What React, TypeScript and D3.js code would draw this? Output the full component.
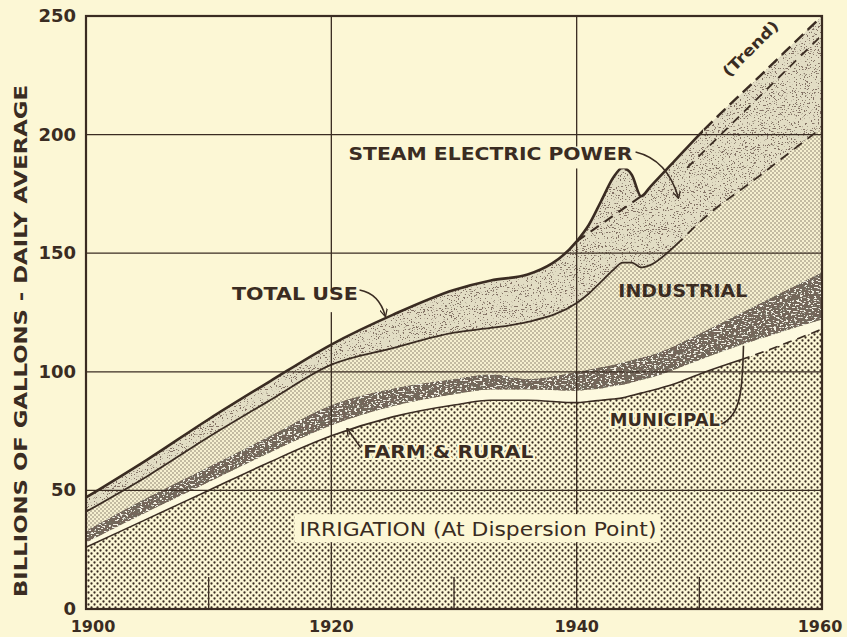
import * as d3 from "d3";
import React from "react";

// Water use, billions of gallons daily average
const years = [1900, 1905, 1910, 1915, 1920, 1925, 1930, 1933, 1936, 1940, 1941, 1942, 1943, 1943.75, 1944.5, 1945.25, 1946, 1948, 1950, 1955, 1960];
const irrigation = [26, 38, 50, 62, 73, 81, 86, 88, 88, 87, 87.5, 88, 88.5, 89, 90, 91, 92, 95, 99, 108, 118];
const farmRural = [2, 3, 3.5, 4, 4.5, 4.5, 4.5, 4.5, 4.5, 5, 5, 5, 5.5, 5.5, 5.5, 5.5, 5.5, 6, 6, 6, 4];
const municipal = [5, 6, 6.5, 7, 8.5, 7.5, 6.5, 6.5, 4.5, 8, 8.5, 9, 9, 9.5, 9.5, 9.5, 9.5, 10, 11, 15, 20];
const industrial = [8, 9, 12.5, 15, 17, 17, 19.5, 19.5, 24, 29, 32, 36, 40, 42, 41, 38, 38, 42, 47, 54, 61];
const steamPower = [6, 7, 7.5, 8, 8.5, 14, 18, 20, 20, 26, 29, 34, 39, 40, 37, 30, 33, 36, 37, 42, 47];

// dashed trend of total use under the war-time bump
const trendYears = [1940, 1945.25];
const trendValues = [155, 174];
// second dashed trend inside the steam electric band
const upperTrendYears = [1949, 1960];
const upperTrendValues = [186, 242];

const yTicks = [0, 50, 100, 150, 200, 250];
const xTicks = [1900, 1920, 1940, 1960];
const minorTicks = [1910, 1930, 1950];

const width = 847;
const height = 637;
const margin = { top: 16, right: 25, bottom: 28, left: 86 };

const ink = "#3a2c22";
const paper = "#fcf7d5";
const font = "'DejaVu Sans', sans-serif";

type Row = { year: number; [k: string]: number };

const App: React.FC = () => {
  const x = d3.scaleLinear().domain([1900, 1960]).range([margin.left, width - margin.right]);
  const y = d3.scaleLinear().domain([0, 250]).range([height - margin.bottom, margin.top]);

  const keys = ["irrigation", "farm", "municipal", "industrial", "steam"];
  const rows: Row[] = years.map((yr, i) => ({
    year: yr,
    irrigation: irrigation[i],
    farm: farmRural[i],
    municipal: municipal[i],
    industrial: industrial[i],
    steam: steamPower[i],
  }));
  const series = d3.stack<Row>().keys(keys)(rows);

  const area = d3
    .area<d3.SeriesPoint<Row>>()
    .x((d) => x(d.data.year))
    .y0((d) => y(d[0]))
    .y1((d) => y(d[1]))
    .curve(d3.curveMonotoneX);

  const topLine = d3
    .line<d3.SeriesPoint<Row>>()
    .x((d) => x(d.data.year))
    .y((d) => y(d[1]))
    .curve(d3.curveMonotoneX);

  const straight = (ys: number[], vs: number[]) =>
    d3
      .line<number>()
      .x((d) => x(d))
      .y((_, i) => y(vs[i]))(ys) ?? "";

  const fills: Record<string, { fill: string; filter?: string }> = {
    irrigation: { fill: "url(#dotsCoarse)" },
    farm: { fill: "#fdf9df" },
    municipal: { fill: "#716b5b", filter: "url(#mottle)" },
    industrial: { fill: "url(#dotsFine)" },
    steam: { fill: "#e2ddc4", filter: "url(#stipple)" },
  };

  const x0 = x(1900);
  const x1 = x(1960);
  const yb = y(0);
  const yt = y(250);

  // helper for a leader line in data coordinates
  const pt = (yr: number, v: number) => `${x(yr)},${y(v)}`;

  const labelStyle = {
    fontFamily: font,
    fontWeight: 700,
    fill: ink,
  } as React.CSSProperties;

  return (
    <svg
      width={width}
      height={height}
      style={{ position: "absolute", left: 0, top: 0, display: "block" }}
    >
      <defs>
        <pattern id="dotsCoarse" width={6} height={6} patternUnits="userSpaceOnUse">
          <rect width={6} height={6} fill={paper} />
          <circle cx={1.5} cy={1.5} r={1.15} fill={ink} />
          <circle cx={4.5} cy={4.5} r={1.15} fill={ink} />
        </pattern>
        <pattern id="dotsFine" width={4} height={4} patternUnits="userSpaceOnUse">
          <rect width={4} height={4} fill="#f6f0d0" />
          <circle cx={1} cy={1} r={0.68} fill={ink} opacity={0.75} />
          <circle cx={3} cy={3} r={0.68} fill={ink} opacity={0.75} />
        </pattern>
        <filter id="stipple" filterUnits="userSpaceOnUse" x={0} y={0} width={width} height={height}>
          <feTurbulence type="fractalNoise" baseFrequency="0.55 0.95" numOctaves={2} seed={7} result="n" />
          <feColorMatrix
            in="n"
            type="matrix"
            values="0 0 0 0 0.23  0 0 0 0 0.17  0 0 0 0 0.13  18 0 0 0 -10.9"
            result="s"
          />
          <feComposite in="s" in2="SourceGraphic" operator="in" result="c" />
          <feMerge>
            <feMergeNode in="SourceGraphic" />
            <feMergeNode in="c" />
          </feMerge>
        </filter>
        <filter id="mottle" filterUnits="userSpaceOnUse" x={0} y={0} width={width} height={height}>
          <feTurbulence type="fractalNoise" baseFrequency="0.35 0.7" numOctaves={2} seed={3} result="n" />
          <feColorMatrix
            in="n"
            type="matrix"
            values="0 0 0 0 0.18  0 0 0 0 0.13  0 0 0 0 0.1  14 0 0 0 -7.0"
            result="dark"
          />
          <feColorMatrix
            in="n"
            type="matrix"
            values="0 0 0 0 0.9  0 0 0 0 0.88  0 0 0 0 0.78  -14 0 0 0 6.0"
            result="light"
          />
          <feMerge result="m">
            <feMergeNode in="dark" />
            <feMergeNode in="light" />
          </feMerge>
          <feComposite in="m" in2="SourceGraphic" operator="in" result="c" />
          <feMerge>
            <feMergeNode in="SourceGraphic" />
            <feMergeNode in="c" />
          </feMerge>
        </filter>
        <clipPath id="solidTotal">
          <rect x={0} y={0} width={x(1950.3)} height={height} />
        </clipPath>
        <clipPath id="dashTotal">
          <rect x={x(1950.3)} y={0} width={width} height={height} />
        </clipPath>
        <clipPath id="solidInd">
          <rect x={0} y={0} width={x(1948.5)} height={height} />
        </clipPath>
        <clipPath id="dashInd">
          <rect x={x(1948.5)} y={0} width={width} height={height} />
        </clipPath>
        <clipPath id="solidIrr">
          <rect x={0} y={0} width={x(1953.5)} height={height} />
        </clipPath>
        <clipPath id="dashIrr">
          <rect x={x(1953.5)} y={0} width={width} height={height} />
        </clipPath>
        <marker id="head" viewBox="0 0 10 10" refX={9} refY={5} markerWidth={8} markerHeight={8} orient="auto" markerUnits="userSpaceOnUse">
          <path d="M0,0 L10,5 L0,10" fill="none" stroke={ink} strokeWidth={1.6} />
        </marker>
      </defs>

      <rect width={width} height={height} fill={paper} />

      {/* stacked areas */}
      {series.map((s) => (
        <path key={s.key} d={area(s) ?? ""} fill={fills[s.key].fill} filter={fills[s.key].filter} />
      ))}

      {/* gridlines */}
      {yTicks.slice(1, -1).map((t) => (
        <line key={"gy" + t} x1={x0} x2={x1} y1={y(t)} y2={y(t)} stroke={ink} strokeWidth={1.3} />
      ))}
      {xTicks.slice(1, -1).map((t) => (
        <line key={"gx" + t} x1={x(t)} x2={x(t)} y1={yb} y2={yt} stroke={ink} strokeWidth={1.3} />
      ))}
      {minorTicks.map((t) => (
        <line key={"mt" + t} x1={x(t)} x2={x(t)} y1={yb} y2={yb - 32} stroke={ink} strokeWidth={1.3} />
      ))}

      {/* boundary lines */}
      <path d={topLine(series[0]) ?? ""} fill="none" stroke={ink} strokeWidth={1.6} clipPath="url(#solidIrr)" />
      <path d={topLine(series[0]) ?? ""} fill="none" stroke={ink} strokeWidth={1.6} strokeDasharray="9 6" clipPath="url(#dashIrr)" />
      <path d={topLine(series[3]) ?? ""} fill="none" stroke={ink} strokeWidth={1.8} clipPath="url(#solidInd)" />
      <path d={topLine(series[3]) ?? ""} fill="none" stroke={ink} strokeWidth={1.8} strokeDasharray="10 7" clipPath="url(#dashInd)" />
      <path d={topLine(series[4]) ?? ""} fill="none" stroke={ink} strokeWidth={2.6} clipPath="url(#solidTotal)" />
      <path d={topLine(series[4]) ?? ""} fill="none" stroke={ink} strokeWidth={2.4} strokeDasharray="12 6" clipPath="url(#dashTotal)" />
      <path d={straight(trendYears, trendValues)} fill="none" stroke={ink} strokeWidth={2} strokeDasharray="10 7" />
      <path d={straight(upperTrendYears, upperTrendValues)} fill="none" stroke={ink} strokeWidth={1.8} strokeDasharray="9 7" />

      {/* frame */}
      <rect x={x0} y={yt} width={x1 - x0} height={yb - yt} fill="none" stroke={ink} strokeWidth={2.2} />

      {/* labels with paper backgrounds */}
      <rect x={x(1911.6)} y={y(134)} width={134} height={21} fill={paper} />
      <text x={x(1911.9)} y={y(130.3)} fontSize={18} textLength={126} lengthAdjust="spacingAndGlyphs" style={labelStyle}>
        TOTAL USE
      </text>
      <path d={`M${pt(1922.3, 134.5)} Q${pt(1923.9, 133)} ${pt(1924.4, 123.5)}`} fill="none" stroke={ink} strokeWidth={1.6} markerEnd="url(#head)" />

      <rect x={x(1921.1)} y={y(195)} width={292} height={22} fill={paper} />
      <text x={x(1921.4)} y={y(189.3)} fontSize={18} textLength={284} lengthAdjust="spacingAndGlyphs" style={labelStyle}>
        STEAM ELECTRIC POWER
      </text>
      <path d={`M${pt(1944.8, 192.7)} Q${pt(1947.4, 189.5)} ${pt(1948.3, 173.3)}`} fill="none" stroke={ink} strokeWidth={1.6} markerEnd="url(#head)" />

      <text x={x(1943.4)} y={y(131.5)} fontSize={18} textLength={129} lengthAdjust="spacingAndGlyphs" style={labelStyle}>
        INDUSTRIAL
      </text>

      <text
        x={x(1942.7)}
        y={y(77)}
        fontSize={18}
        textLength={110}
        lengthAdjust="spacingAndGlyphs"
        style={{ ...labelStyle, stroke: paper, strokeWidth: 4, paintOrder: "stroke" }}
      >
        MUNICIPAL
      </text>
      <path d={`M${pt(1951.8, 78)} C${pt(1953.6, 82)} ${pt(1953.5, 97)} ${pt(1953.6, 111)}`} fill="none" stroke={ink} strokeWidth={1.6} />

      <text
        x={x(1922.6)}
        y={y(63.7)}
        fontSize={18}
        textLength={170}
        lengthAdjust="spacingAndGlyphs"
        style={{ ...labelStyle, stroke: paper, strokeWidth: 4, paintOrder: "stroke" }}
      >
        FARM &amp; RURAL
      </text>
      <path d={`M${pt(1922.4, 68)} L${pt(1921.3, 76)}`} fill="none" stroke={ink} strokeWidth={1.5} markerEnd="url(#head)" />

      <rect x={x(1917)} y={y(40)} width={366} height={28} fill={paper} />
      <text x={x(1917.4)} y={y(30.8)} fontSize={19} textLength={357} lengthAdjust="spacingAndGlyphs" style={{ ...labelStyle, fontWeight: 400 }}>
        IRRIGATION (At Dispersion Point)
      </text>

      <text
        transform={`translate(${x(1952.4)},${y(224)}) rotate(-45)`}
        fontSize={15}
        textLength={72}
        lengthAdjust="spacingAndGlyphs"
        style={labelStyle}
      >
        (Trend)
      </text>

      {/* axes labels */}
      {yTicks.map((t) => (
        <text key={"yl" + t} x={x0 - 10} y={y(t) + 6} textAnchor="end" fontSize={18} style={labelStyle}>
          {t}
        </text>
      ))}
      {xTicks.map((t) => (
        <text
          key={"xl" + t}
          x={x(t) + (t === 1900 ? 7 : t === 1960 ? -2 : 0)}
          y={height - 5}
          textAnchor="middle"
          fontSize={16}
          style={labelStyle}
        >
          {t}
        </text>
      ))}
      <text
        transform={`translate(27,341) rotate(-90)`}
        textAnchor="middle"
        fontSize={18}
        textLength={512}
        lengthAdjust="spacingAndGlyphs"
        style={labelStyle}
      >
        BILLIONS OF GALLONS - DAILY AVERAGE
      </text>
    </svg>
  );
};

export default App;
